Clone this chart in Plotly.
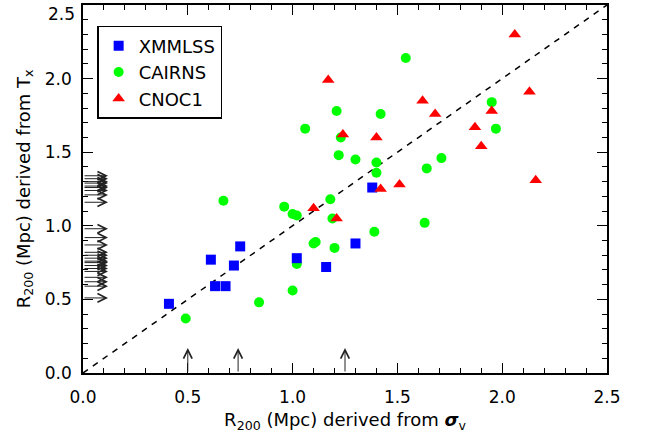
import plotly.graph_objects as go

# ---------------- data ----------------
XMM_X = [0.41, 0.61, 0.63, 0.68, 0.72, 0.75, 1.02, 1.16, 1.30, 1.38]
XMM_Y = [0.47, 0.77, 0.59, 0.59, 0.73, 0.86, 0.78, 0.72, 0.88, 1.26]

CAIRNS_X = [0.49, 0.84, 1.00, 1.02, 0.67, 0.96, 1.00, 1.02, 1.10, 1.11,
            1.20, 1.19, 1.18, 1.39, 1.63, 1.40, 1.40, 1.30, 1.22, 1.23,
            1.06, 1.21, 1.42, 1.54, 1.64, 1.71, 1.95, 1.97]
CAIRNS_Y = [0.37, 0.48, 0.56, 0.74, 1.17, 1.13, 1.08, 1.07, 0.88, 0.89,
            0.85, 1.05, 1.18, 0.96, 1.02, 1.36, 1.43, 1.45, 1.48, 1.60,
            1.66, 1.78, 1.76, 2.14, 1.39, 1.46, 1.84, 1.66]

CNOC_X = [1.10, 1.21, 1.17, 1.24, 1.40, 1.42, 1.51, 1.62, 1.68, 1.87,
          1.90, 1.95, 2.06, 2.13, 2.16]
CNOC_Y = [1.12, 1.05, 1.99, 1.62, 1.60, 1.25, 1.28, 1.85, 1.76, 1.67,
          1.54, 1.78, 2.30, 1.91, 1.31]

# clusters with only a T_x estimate (drawn as arrows on the y axis)
TX_ONLY_Y = [1.34, 1.32, 1.30, 1.29, 1.27, 1.26, 1.24, 1.21, 1.16,
             0.98, 0.92, 0.87, 0.82, 0.80, 0.78, 0.76, 0.75, 0.73,
             0.71, 0.69, 0.65, 0.62, 0.59, 0.51]
# clusters with only a sigma_v estimate (arrows on the x axis)
SIGMA_ONLY_X = [0.50, 0.74, 1.25]

ONE_TO_ONE = [0.0, 2.5]

X_TICKS = [0.0, 0.5, 1.0, 1.5, 2.0, 2.5]
X_TICK_LABELS = ["0.0", "0.5", "1.0", "1.5", "2.0", "2.5"]
Y_TICKS = [0.0, 0.5, 1.0, 1.5, 2.0, 2.5]
Y_TICK_LABELS = ["0.0", "0.5", "1.0", "1.5", "2.0", "2.5"]

FONT = "DejaVu Sans"

fig = go.Figure()

fig.add_trace(go.Scatter(
    x=ONE_TO_ONE, y=ONE_TO_ONE, mode="lines", showlegend=False,
    line=dict(color="black", width=1.5, dash="6px,6px"), hoverinfo="skip"))

fig.add_trace(go.Scatter(
    x=CAIRNS_X, y=CAIRNS_Y, mode="markers", name="CAIRNS", legendrank=2,
    marker=dict(symbol="circle", size=10, color="#00ff00", line=dict(width=0))))
fig.add_trace(go.Scatter(
    x=XMM_X, y=XMM_Y, mode="markers", name="XMMLSS", legendrank=1,
    marker=dict(symbol="square", size=10, color="#0000ff", line=dict(width=0))))
fig.add_trace(go.Scatter(
    x=CNOC_X, y=CNOC_Y, mode="markers", name="CNOC1", legendrank=3,
    marker=dict(symbol="triangle-up", size=11, color="#ff0000", line=dict(width=0))))

ARROW_PX = 25
ARROW_COLOR = "#222222"
annotations = []
for v in TX_ONLY_Y:
    annotations.append(dict(
        x=0, y=v, xref="x", yref="y", text="", showarrow=True,
        ax=-ARROW_PX, ay=0, xshift=ARROW_PX, arrowhead=5, arrowsize=1.7,
        arrowwidth=1, arrowcolor=ARROW_COLOR, standoff=0))
for v in SIGMA_ONLY_X:
    annotations.append(dict(
        x=v, y=0, xref="x", yref="y", text="", showarrow=True,
        ax=0, ay=ARROW_PX, yshift=ARROW_PX, arrowhead=5, arrowsize=1.7,
        arrowwidth=1, arrowcolor=ARROW_COLOR, standoff=0))

# top y tick label placed just inside the figure (as in the original)
annotations.append(dict(
    x=0, y=Y_TICKS[-1], xref="paper", yref="y", text=Y_TICK_LABELS[-1],
    showarrow=False, xanchor="right", yanchor="top", xshift=-6, yshift=3,
    font=dict(family=FONT, size=17, color="black")))

axis_common = dict(
    range=[0, 2.5], showgrid=False, zeroline=False,
    showline=True, linecolor="black", linewidth=1.5, mirror="allticks",
    ticks="inside", ticklen=10, tickwidth=1, tickcolor="black",
    tickfont=dict(family=FONT, size=17, color="black"),
    minor=dict(tickmode="linear", tick0=0, dtick=0.1, ticks="inside",
               ticklen=5, tickwidth=1, tickcolor="black", showgrid=False),
)

fig.update_layout(
    width=651, height=441,
    margin=dict(l=83, r=44, t=3, b=68),
    paper_bgcolor="white", plot_bgcolor="white",
    font=dict(family=FONT, color="black"),
    xaxis=dict(**axis_common, tickmode="array", tickvals=X_TICKS,
               ticktext=X_TICK_LABELS, ticklabelstandoff=8,
               title=dict(text="R<sub>200</sub> (Mpc) derived from <b><i>σ</i></b><sub>v</sub>",
                          font=dict(family=FONT, size=18), standoff=7)),
    yaxis=dict(**axis_common, tickmode="array", tickvals=Y_TICKS[:-1],
               ticktext=Y_TICK_LABELS[:-1], ticklabelstandoff=6,
               title=dict(text="R<sub>200</sub> (Mpc) derived from T<sub>x</sub>",
                          font=dict(family=FONT, size=18), standoff=10)),
    legend=dict(x=0.027, y=0.943, xanchor="left", yanchor="top",
                bgcolor="white", bordercolor="black", borderwidth=1.5,
                font=dict(family=FONT, size=18, color="black"),
                traceorder="normal"),
    annotations=annotations,
)

fig.write_html(
    "out.html",
    config={"displayModeBar": False},
    post_script="document.body.style.margin='0';document.body.style.overflow='hidden';",
)
